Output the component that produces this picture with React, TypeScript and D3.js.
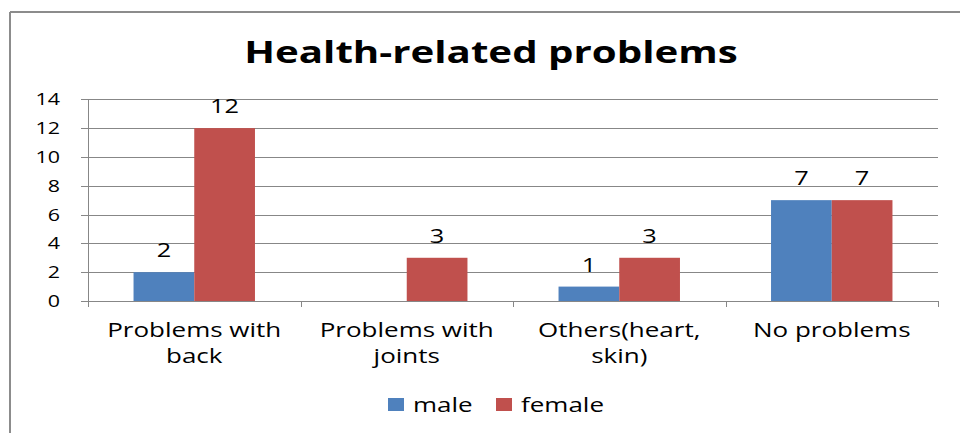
import React from "react";
import * as d3 from "d3";

const categories = [["Problems with", "back"], ["Problems with", "joints"], ["Others(heart,", "skin)"], ["No problems"]];
const seriesNames = ["male", "female"];
const male = [2, null, 1, 7];
const female = [12, 3, 3, 7];
const yTicks = [0, 2, 4, 6, 8, 10, 12, 14];
const title = "Health-related problems";

const W = 960, H = 433;
const plot = { left: 88, right: 938, top: 99.3, bottom: 301 };
const colors = ["#4F81BD", "#C0504D"];
const SX = 1.3;
const FONT = "'Open Sans', sans-serif";

function T({ x, y, size, anchor = "middle", weight = "normal", sx = SX, children }: any) {
  return (
    <g transform={`translate(${x},${y}) scale(${sx},1)`}>
      <text textAnchor={anchor} fontSize={size} fontWeight={weight} fontFamily={FONT} fill="#000">
        {children}
      </text>
    </g>
  );
}

export default function App() {
  const x0 = d3.scaleBand<number>().domain(d3.range(categories.length)).range([plot.left, plot.right]).paddingInner(0).paddingOuter(0);
  const bw = x0.bandwidth() / 3.5;
  const y = d3.scaleLinear().domain([0, 14]).range([plot.bottom, plot.top]);
  const series = [male, female];
  const gridColor = "#878787";
  return (
    <svg width={W} height={H} style={{ position: "absolute", left: 0, top: 0 }}>
      <rect x={0} y={0} width={W} height={H} fill="#fff" />
      <line x1={10} y1={12} x2={W} y2={12} stroke="#8c8c8c" strokeWidth={2} />
      <line x1={10} y1={12} x2={10} y2={H} stroke="#8c8c8c" strokeWidth={2} />
      <T x={491} y={62.5} size={30.5} sx={1.32} weight="bold">{title}</T>
      {yTicks.map((t) => (
        <g key={t}>
          <line x1={plot.left - 7} x2={plot.right} y1={Math.round(y(t)) + 0.5} y2={Math.round(y(t)) + 0.5} stroke={gridColor} strokeWidth={1} />
          <T x={60} y={y(t) + 6} size={16.5} anchor="end">{t}</T>
        </g>
      ))}
      <line x1={plot.left + 0.5} x2={plot.left + 0.5} y1={plot.top} y2={plot.bottom} stroke={gridColor} />
      {d3.range(categories.length + 1).map((i) => {
        const xx = i < categories.length ? x0(i)! : plot.right;
        return <line key={i} x1={Math.round(xx) + 0.5} x2={Math.round(xx) + 0.5} y1={plot.bottom} y2={plot.bottom + 6} stroke={gridColor} />;
      })}
      {categories.map((c, i) => {
        const cx = x0(i)! + x0.bandwidth() / 2;
        return (
          <g key={i}>
            {series.map((s, k) => {
              const v = s[i];
              if (v == null) return null;
              const bx = cx - bw + k * bw;
              return (
                <g key={k}>
                  <rect x={bx} y={y(v)} width={bw} height={y(0) - y(v)} fill={colors[k]} />
                  <T x={bx + bw / 2} y={y(v) - 15} size={19.5}>{v}</T>
                </g>
              );
            })}
            {c.map((line, j) => (
              <T key={j} x={cx} y={337 + j * 25.5} size={20}>{line}</T>
            ))}
          </g>
        );
      })}
      {seriesNames.map((n, k) => {
        const lx = [388, 496][k];
        return (
          <g key={n}>
            <rect x={lx} y={398} width={16} height={13} fill={colors[k]} />
            <T x={lx + 25} y={411.5} size={20} anchor="start">{n}</T>
          </g>
        );
      })}
    </svg>
  );
}
